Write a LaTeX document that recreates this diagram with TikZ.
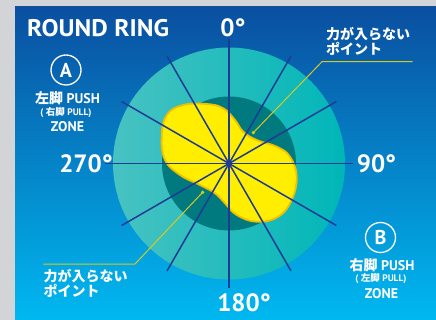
\documentclass[tikz,border=0pt]{standalone}
\usepackage{fontspec}
\setmainfont{PT Sans}
\newfontfamily\jp{Noto Sans CJK JP}
\usetikzlibrary{calc}
\definecolor{bgtop}{HTML}{0A4FA0}
\definecolor{bgbot}{HTML}{00B8F0}
\definecolor{ringL}{HTML}{48C2C2}
\definecolor{ringR}{HTML}{00B6B8}
\definecolor{darkteal}{HTML}{007A7E}
\definecolor{spokeblue}{HTML}{1E3C96}
\definecolor{blobfill}{HTML}{FFEE00}
\definecolor{blobedge}{HTML}{F2BE00}
\definecolor{leader}{HTML}{D8C81E}
\definecolor{greyframe}{HTML}{D2D4D8}
\tikzset{
  spoke/.style={draw=spokeblue, line width=1.5pt},
  lead/.style={draw=leader, line width=1pt},
  wt/.style={text=white, inner sep=0pt, font=\bfseries},
}
\begin{document}
\begin{tikzpicture}[x=1pt,y=-1pt]
\useasboundingbox (0,0) rectangle (436,320);
\fill[greyframe] (0,0) rectangle (436,320);
\shade[top color=bgtop, bottom color=bgbot] (15,7) rectangle (436,320);
\coordinate (c) at (229,163.5);
\shade[left color=ringL, right color=ringR] (c) circle (116pt);
\fill[darkteal] (c) circle (67pt);
% yellow blob
\draw[fill=blobfill, draw=blobedge, line width=1.8pt] plot[smooth cycle, tension=0.7] coordinates {
 (161.7,136.7) (166.7,115) (183.3,105) (206.7,104) (223.3,108.3) (235,120)
 (243.3,131.7) (256.7,140) (276.7,146.7) (290,156.7) (296.7,176.7) (291.7,200)
 (278.3,216.7) (256.7,221.7) (236.7,215) (225,203.3) (215,193.3) (200,185)
 (180,175) (165,160)};
% spokes
\foreach \a in {0,30,...,150}{
  \draw[spoke] ($(c)+(\a:124pt)$) -- ($(c)+(\a+180:124pt)$);
}
% leaders
\coordinate (d1) at (253.3,132.7);
\coordinate (k1) at (322,61.7);
\coordinate (e1) at (412.7,61.7);
\coordinate (d2) at (202.7,192.3);
\coordinate (k2) at (135,264);
\coordinate (e2) at (43.3,264);
\draw[lead] (d1) -- (k1) -- (e1);
\draw[lead] (d2) -- (k2) -- (e2);
\fill[leader] (d1) circle (1.8pt);
\fill[leader] (d2) circle (1.8pt);
% texts
\node[wt, anchor=base west, font=\fontsize{24}{24}\selectfont\bfseries] (title) at (27,37) {\scalebox{1.06}[1]{ROUND RING}};
\node[wt, anchor=base, font=\fontsize{25}{25}\selectfont\bfseries] (d0) at (233,37) {0°};
\node[wt, anchor=base, font=\fontsize{25}{25}\selectfont\bfseries] (d270) at (86,172.3) {270°};
\node[wt, anchor=base, font=\fontsize{25}{25}\selectfont\bfseries] (d90) at (376.5,173) {90°};
\node[wt, anchor=base, font=\fontsize{25}{25}\selectfont\bfseries] (d180) at (244,311.7) {180°};
% A zone
\node[draw=white, line width=1.3pt, circle, minimum size=30pt, inner sep=0pt, text=white, font=\fontsize{20}{20}\selectfont\bfseries] (ca) at (66,70) {A};
\node[wt, font=\fontsize{14}{14}\selectfont\bfseries] (a1) at (67.5,98) {{\jp\bfseries 左脚} PUSH};
\node[wt, font=\fontsize{9.5}{9.5}\selectfont\bfseries] (a2) at (66,112) {( {\jp\bfseries 右脚} PULL)};
\node[wt, font=\fontsize{14}{14}\selectfont\bfseries] (a3) at (67.5,127) {ZONE};
% B zone
\node[draw=white, line width=1.3pt, circle, minimum size=30pt, inner sep=0pt, text=white, font=\fontsize{20}{20}\selectfont\bfseries] (cb) at (380.5,237.5) {B};
\node[wt, font=\fontsize{14}{14}\selectfont\bfseries] (b1) at (382,265) {{\jp\bfseries 右脚} PUSH};
\node[wt, font=\fontsize{9.5}{9.5}\selectfont\bfseries] (b2) at (381,278.5) {( {\jp\bfseries 左脚} PULL)};
\node[wt, font=\fontsize{14}{14}\selectfont\bfseries] (b3) at (381.5,294) {ZONE};
% weak points
\node[wt, anchor=north west, align=left, font=\fontsize{14}{15}\selectfont\jp\bfseries] (w1) at (326,27) {力が入らない\\ポイント};
\node[wt, anchor=north west, align=left, font=\fontsize{14}{15}\selectfont\jp\bfseries] (w2) at (43.3,269.5) {力が入らない\\ポイント};
\end{tikzpicture}
\end{document}
